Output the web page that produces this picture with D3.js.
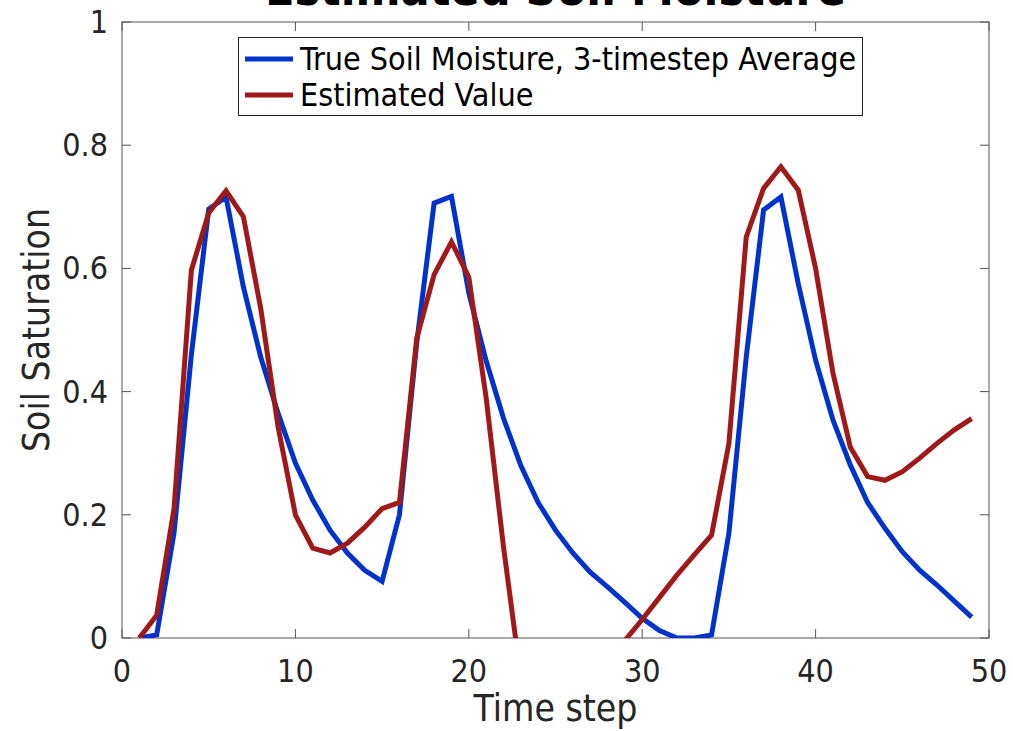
<!DOCTYPE html>
<html>
<head>
<meta charset="utf-8">
<script src="https://cdn.jsdelivr.net/npm/d3@7"></script>
<style>
  body { margin: 0; background: #fff; }
  text { font-family: "DejaVu Sans Condensed", "DejaVu Sans", sans-serif; fill: #262626; }
</style>
</head>
<body>
<script>
const width = 1013, height = 731;
const margin = { top: 22, right: 24, bottom: 93, left: 122 };

const steps = d3.range(1, 50);
const trueMoisture = [
  0, 0.005, 0.17, 0.46, 0.696, 0.716, 0.57, 0.456, 0.365, 0.284,
  0.224, 0.175, 0.138, 0.11, 0.092, 0.2, 0.48, 0.706, 0.717, 0.56,
  0.45, 0.357, 0.28, 0.22, 0.175, 0.138, 0.107, 0.083, 0.058, 0.032,
  0.012, 0, 0, 0.005, 0.17, 0.456, 0.695, 0.716, 0.575, 0.451,
  0.354, 0.281, 0.22, 0.178, 0.14, 0.11, 0.086, 0.06, 0.034
];
const estimated = [
  0, 0.037, 0.21, 0.597, 0.69, 0.726, 0.684, 0.535, 0.343, 0.2,
  0.146, 0.138, 0.154, 0.18, 0.21, 0.22, 0.487, 0.59, 0.643, 0.586,
  0.39, 0.148, -0.065, -0.2, -0.25, -0.2, -0.12, -0.05, -0.004, 0.03,
  0.066, 0.102, 0.135, 0.167, 0.316, 0.651, 0.73, 0.765, 0.727, 0.6,
  0.43, 0.31, 0.262, 0.256, 0.27, 0.292, 0.316, 0.338, 0.356
];
const xTicks = [0, 10, 20, 30, 40, 50];
const yTicks = [0, 0.2, 0.4, 0.6, 0.8, 1];
const seriesNames = ["True Soil Moisture, 3-timestep Average", "Estimated Value"];
const colors = ["#0033cc", "#a01919"];

const x = d3.scaleLinear().domain([0, 50]).range([margin.left, width - margin.right]);
const y = d3.scaleLinear().domain([0, 1]).range([height - margin.bottom, margin.top]);

const svg = d3.select("body").append("svg")
  .attr("width", width)
  .attr("height", height);

svg.append("clipPath").attr("id", "plot")
  .append("rect")
  .attr("x", x(0)).attr("y", y(1))
  .attr("width", x(50) - x(0)).attr("height", y(0) - y(1));

// ticks on all four sides, pointing inward
const tick = 9;
const axes = svg.append("g").attr("stroke", "#555").attr("stroke-width", 1);
xTicks.forEach(t => {
  axes.append("line").attr("x1", x(t)).attr("x2", x(t)).attr("y1", y(0)).attr("y2", y(0) - tick);
  axes.append("line").attr("x1", x(t)).attr("x2", x(t)).attr("y1", y(1)).attr("y2", y(1) + tick);
});
yTicks.forEach(t => {
  axes.append("line").attr("x1", x(0)).attr("x2", x(0) + tick).attr("y1", y(t)).attr("y2", y(t));
  axes.append("line").attr("x1", x(50)).attr("x2", x(50) - tick).attr("y1", y(t)).attr("y2", y(t));
});
axes.append("rect")
  .attr("x", x(0)).attr("y", y(1))
  .attr("width", x(50) - x(0)).attr("height", y(0) - y(1))
  .attr("fill", "none");

svg.append("g").selectAll("text")
  .data(xTicks)
  .join("text")
  .attr("x", d => x(d))
  .attr("y", y(0) + 44)
  .attr("text-anchor", "middle")
  .attr("font-size", 32)
  .text(d => d);

svg.append("g").selectAll("text")
  .data(yTicks)
  .join("text")
  .attr("x", x(0) - 14)
  .attr("y", d => y(d) + 11)
  .attr("text-anchor", "end")
  .attr("font-size", 32)
  .text(d => d);

const line = d3.line()
  .x((d, i) => x(steps[i]))
  .y(d => y(d));

svg.append("g").attr("clip-path", "url(#plot)")
  .selectAll("path")
  .data([trueMoisture, estimated])
  .join("path")
  .attr("fill", "none")
  .attr("stroke", (d, i) => colors[i])
  .attr("stroke-width", 5)
  .attr("stroke-linejoin", "miter")
  .attr("d", line);

// legend
const legend = svg.append("g");
legend.append("rect")
  .attr("x", 238.5).attr("y", 37.5)
  .attr("width", 624).attr("height", 78)
  .attr("fill", "#fff").attr("stroke", "#262626");
seriesNames.forEach((name, i) => {
  const ly = 59 + i * 36;
  legend.append("line")
    .attr("x1", 245).attr("x2", 293)
    .attr("y1", ly).attr("y2", ly)
    .attr("stroke", colors[i]).attr("stroke-width", 5);
  legend.append("text")
    .attr("x", 300).attr("y", ly + 11)
    .attr("font-size", 32)
    .style("fill", "#000")
    .text(name);
});

svg.append("text")
  .attr("x", (x(0) + x(50)) / 2)
  .attr("y", 5)
  .attr("text-anchor", "middle")
  .attr("font-size", 48)
  .attr("font-weight", "bold")
  .style("fill", "#000")
  .text("Estimated Soil Moisture");

svg.append("text")
  .attr("x", (x(0) + x(50)) / 2)
  .attr("y", 721)
  .attr("text-anchor", "middle")
  .attr("font-size", 37)
  .text("Time step");

svg.append("text")
  .attr("transform", `translate(49,${(y(0) + y(1)) / 2}) rotate(-90)`)
  .attr("text-anchor", "middle")
  .attr("font-size", 37)
  .text("Soil Saturation");
</script>
</body>
</html>
